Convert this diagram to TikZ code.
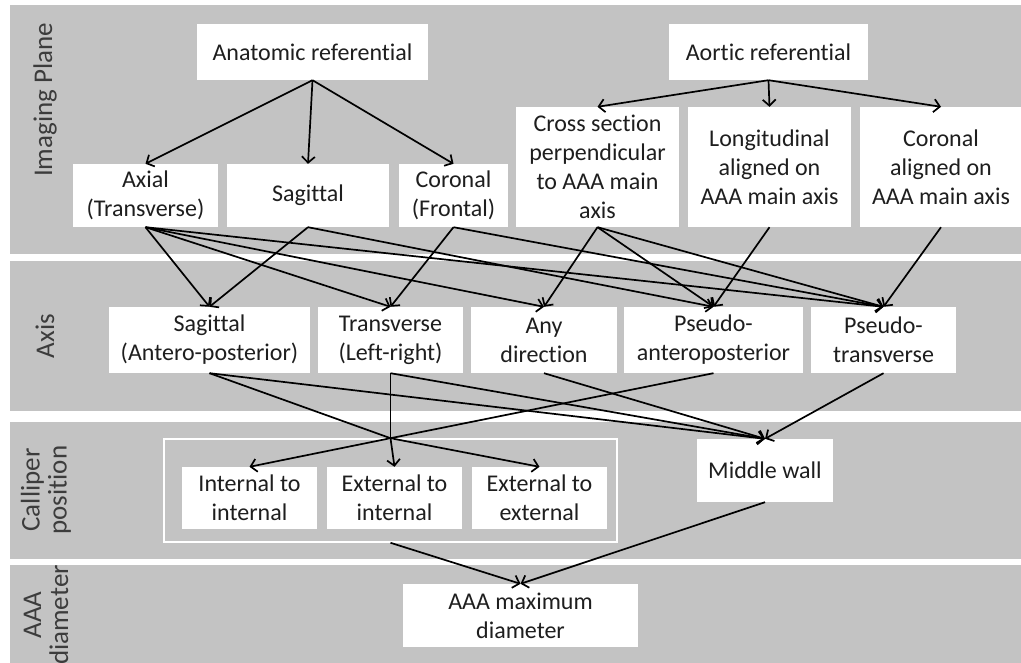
\documentclass[tikz,border=0pt]{standalone}
\usepackage{fontspec}
\setmainfont{Carlito}[RawFeature={-liga;-clig;-dlig;-calt}]
\usetikzlibrary{arrows.meta}
\definecolor{bandgray}{RGB}{195,195,195}
\definecolor{txt}{RGB}{30,30,30}
\definecolor{lbl}{RGB}{60,60,60}
\begin{document}
\begin{tikzpicture}[x=1pt,y=-1pt,
  box/.style={fill=white,draw=none,align=center,inner sep=0pt,text=txt,
    font=\fontsize{24}{29}\selectfont},
  lab/.style={rotate=90,align=center,inner sep=0pt,text=lbl,
    font=\fontsize{27}{27}\selectfont},
  arr/.style={line width=1.7pt,-{Straight Barb[length=6pt,width=13pt,line width=1.7pt]}},
  ln/.style={line width=1.7pt}]
\useasboundingbox (0,0) rectangle (1021,663);
\fill[white] (0,0) rectangle (1021,663);
% bands
\fill[bandgray] (10,5) rectangle (1021,254);
\fill[bandgray] (10,261) rectangle (1021,411);
\fill[bandgray] (10,422) rectangle (1021,559);
\fill[bandgray] (10,565) rectangle (1021,663);
% side labels
\node[lab] (lIP) at (45,100) {Imaging Plane};
\node[lab] (lAx) at (45,336) {Axis};
\node[lab] (lCP) at (46,490) {Calliper\\position};
\node[lab] (lAD) at (46,615) {AAA\\diameter};
% imaging plane
\node[box,minimum width=231,minimum height=56] (anat) at (312.5,52) {Anatomic referential};
\node[box,minimum width=199,minimum height=56] (aort) at (768.5,52) {Aortic referential};
\node[box,minimum width=145,minimum height=63] (axial) at (145.5,195.5) {Axial\\(Transverse)};
\node[box,minimum width=162,minimum height=63] (sag) at (308,195.5) {Sagittal};
\node[box,minimum width=109,minimum height=63] (cor) at (453.5,195.5) {Coronal\\(Frontal)};
\node[box,minimum width=163,minimum height=120] (cross) at (597.5,167) {Cross section\\perpendicular\\to AAA main\\axis};
\node[box,minimum width=163,minimum height=120] (long) at (769.5,167) {Longitudinal\\aligned on\\AAA main axis};
\node[box,minimum width=162,minimum height=120] (corA) at (941,167) {Coronal\\aligned on\\AAA main axis};
% axis
\node[box,minimum width=201,minimum height=66] (sagAP) at (209.5,340) {Sagittal\\(Antero-posterior)};
\node[box,minimum width=145,minimum height=66] (trans) at (390.5,340) {Transverse\\(Left-right)};
\node[box,minimum width=146,minimum height=66] (any) at (544,340) {Any\\direction};
\node[box,minimum width=179,minimum height=66] (pAP) at (713.5,340) {Pseudo-\\anteroposterior};
\node[box,minimum width=145,minimum height=66] (pT) at (883.5,340) {Pseudo-\\transverse};
% calliper
\node[draw=white,line width=1.6pt,minimum width=453,minimum height=103,inner sep=0pt] (grp) at (390.5,490.5) {};
\node[box,minimum width=135,minimum height=62] (ii) at (249.5,498) {Internal to\\internal};
\node[box,minimum width=135,minimum height=62] (ei) at (394.5,498) {External to\\internal};
\node[box,minimum width=135,minimum height=62] (ee) at (539.5,498) {External to\\external};
\node[box,minimum width=136,minimum height=63] (mw) at (765,470.5) {Middle wall};
% diameter
\node[box,minimum width=235,minimum height=63] (aaa) at (520.5,615.5) {AAA maximum\\diameter};
\coordinate (merge) at (grp.north);
% connectors
\draw[arr] (anat.south) -- (axial.north);
\draw[arr] (anat.south) -- (sag.north);
\draw[arr] (anat.south) -- (cor.north);
\draw[arr] (aort.south) -- (cross.north);
\draw[arr] (aort.south) -- (long.north);
\draw[arr] (aort.south) -- (corA.north);
\draw[arr] (axial.south) -- (sagAP.north);
\draw[arr] (axial.south) -- (trans.north);
\draw[arr] (axial.south) -- (any.north);
\draw[arr] (axial.south) -- (pT.north);
\draw[arr] (sag.south) -- (sagAP.north);
\draw[arr] (sag.south) -- (pAP.north);
\draw[arr] (cor.south) -- (trans.north);
\draw[arr] (cor.south) -- (pT.north);
\draw[arr] (cross.south) -- (any.north);
\draw[arr] (cross.south) -- (pAP.north);
\draw[arr] (cross.south) -- (pT.north);
\draw[arr] (long.south) -- (pAP.north);
\draw[arr] (corA.south) -- (pT.north);
\draw[arr] (sagAP.south) -- (mw.north);
\draw[arr] (trans.south) -- (mw.north);
\draw[arr] (any.south) -- (mw.north);
\draw[arr] (pT.south) -- (mw.north);
\draw[ln] (sagAP.south) -- (merge);
\draw[ln] (trans.south) -- (merge);
\draw[ln] (pAP.south) -- (merge);
\draw[arr] (merge) -- (ii.north);
\draw[arr] (merge) -- (ei.north);
\draw[arr] (merge) -- (ee.north);
\draw[arr] (grp.south) -- (aaa.north);
\draw[arr] (mw.south) -- (aaa.north);
\end{tikzpicture}
\end{document}
